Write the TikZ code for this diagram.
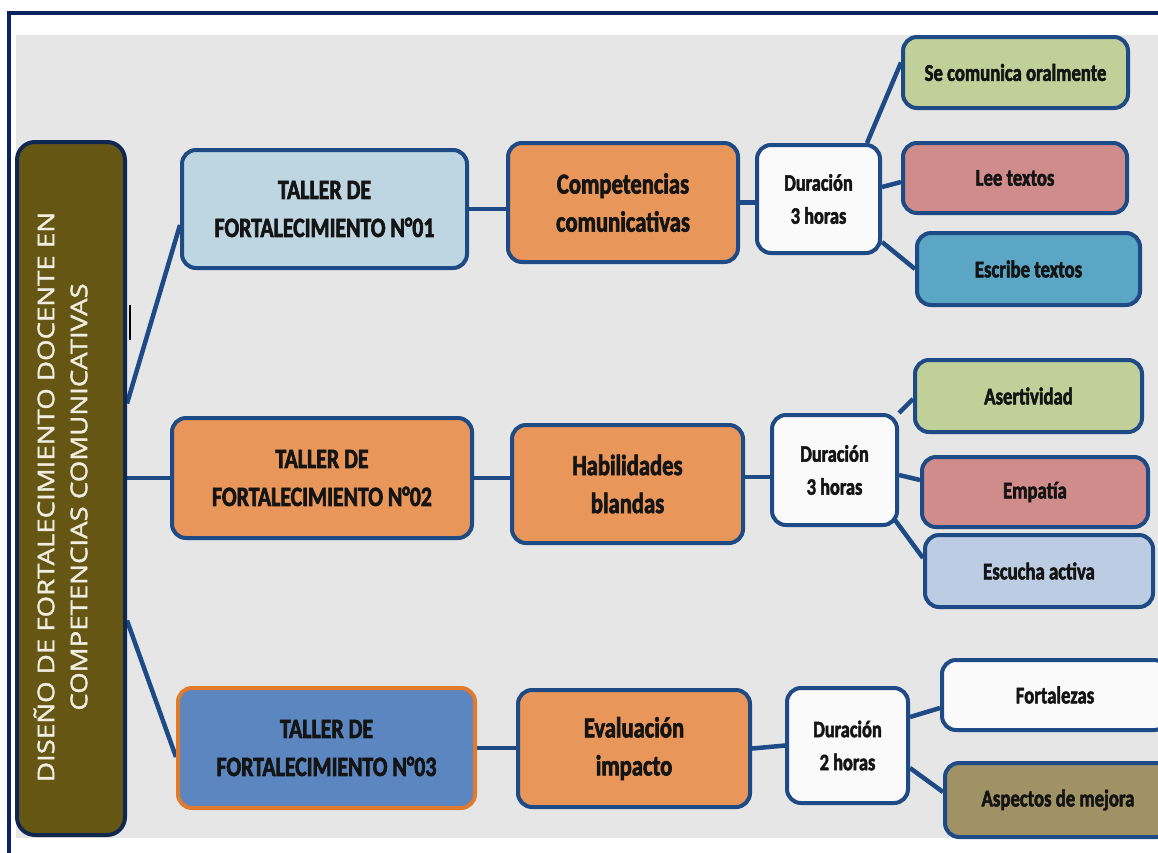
\documentclass[tikz,border=0pt]{standalone}
\usepackage{fontspec}
\setmainfont{Carlito}
\newfontfamily\boxfont[FakeStretch=0.78, BoldFeatures={FakeBold=2.2}]{Carlito}
\newfontfamily\rootfont[FakeStretch=1.2, FakeBold=1.6]{Open Sans}
\definecolor{navy}{RGB}{10,36,96}
\definecolor{edge}{RGB}{30,74,134}
\definecolor{rootfill}{RGB}{102,86,20}
\definecolor{rootedge}{RGB}{16,40,80}
\definecolor{paper}{RGB}{230,230,230}
\definecolor{tonefill}{RGB}{190,214,226}
\definecolor{orangefill}{RGB}{232,150,90}
\definecolor{tthreefill}{RGB}{92,134,192}
\definecolor{tthreeedge}{RGB}{224,122,44}
\definecolor{greenfill}{RGB}{192,208,152}
\definecolor{pinkfill}{RGB}{208,140,138}
\definecolor{tealfill}{RGB}{90,166,196}
\definecolor{paleblue}{RGB}{188,204,226}
\definecolor{olivefill}{RGB}{160,146,100}
\definecolor{whitefill}{RGB}{250,250,250}
\definecolor{roottext}{RGB}{240,238,226}
\pgfdeclarelayer{bglayer}
\pgfdeclarelayer{linelayer}
\pgfsetlayers{bglayer,linelayer,main}
\tikzset{
  box/.style={draw=edge, line width=4pt, rounded corners=14pt, align=center, inner sep=0pt, text=black!92},
  taller/.style={box, font=\boxfont\bfseries\fontsize{28}{38}\selectfont},
  comp/.style={box, fill=orangefill, font=\boxfont\bfseries\fontsize{29}{38}\selectfont},
  dur/.style={box, fill=whitefill, font=\boxfont\bfseries\fontsize{23.5}{33}\selectfont},
  leaf/.style={box, font=\boxfont\bfseries\fontsize{24}{28}\selectfont},
  conn/.style={draw=edge, line width=4.5pt}
}
\begin{document}
\begin{tikzpicture}[x=1pt,y=-1pt]
\useasboundingbox (0,0) rectangle (1158,852);
\begin{pgfonlayer}{bglayer}
\fill[white] (0,0) rectangle (1158,852);
\fill[paper] (16,35) rectangle (1158,838);
\end{pgfonlayer}
\clip (0,0) rectangle (1158,852);
\draw[navy, line width=4pt] (1170,13) -- (9,13) -- (9,870);

% root
\node[draw=rootedge, fill=rootfill, line width=4pt, rounded corners=18pt,
      minimum width=108pt, minimum height=693pt, inner sep=0pt] (root) at (71,488.5) {};
\node[rotate=90, font=\rootfont\fontsize{23}{33}\selectfont, text=roottext, align=center]
      (roottext) at (60.5,497) {DISEÑO DE FORTALECIMIENTO DOCENTE EN\\COMPETENCIAS COMUNICATIVAS};
\draw[black, line width=1.2pt] (130,305) -- (130,340);

% workshops
\node[taller, fill=tonefill, minimum width=285pt, minimum height=118pt] (T1) at (324.5,209) {TALLER DE\\FORTALECIMIENTO N°01};
\node[taller, fill=orangefill, minimum width=300pt, minimum height=120pt] (T2) at (322,478) {TALLER DE\\FORTALECIMIENTO N°02};
\node[taller, fill=tthreefill, draw=tthreeedge, minimum width=297pt, minimum height=120pt] (T3) at (326.5,748) {TALLER DE\\FORTALECIMIENTO N°03};

% topics
\node[comp, minimum width=230pt, minimum height=119pt] (C1) at (623,202.5) {Competencias\\comunicativas};
\node[comp, minimum width=231pt, minimum height=118pt] (C2) at (627.5,484) {Habilidades\\blandas};
\node[comp, minimum width=232pt, minimum height=117pt] (C3) at (634,748.5) {Evaluación\\impacto};

% durations
\node[dur, minimum width=123pt, minimum height=108pt] (D1) at (818.5,199) {Duración\\3 horas};
\node[dur, minimum width=125pt, minimum height=110pt] (D2) at (834.5,470) {Duración\\3 horas};
\node[dur, minimum width=121pt, minimum height=115pt] (D3) at (847.5,745.5) {Duración\\2 horas};

% leaves
\node[leaf, fill=greenfill, minimum width=225pt, minimum height=71pt] (L11) at (1015.5,72.5) {Se comunica oralmente};
\node[leaf, fill=pinkfill, minimum width=224pt, minimum height=70pt] (L12) at (1015,178) {Lee textos};
\node[leaf, fill=tealfill, minimum width=223pt, minimum height=72pt] (L13) at (1028.5,269) {Escribe textos};
\node[leaf, fill=greenfill, minimum width=227pt, minimum height=72pt] (L21) at (1028.5,396) {Asertividad};
\node[leaf, fill=pinkfill, minimum width=226pt, minimum height=70pt] (L22) at (1035,492) {Empatía};
\node[leaf, fill=paleblue, minimum width=228pt, minimum height=72pt] (L23) at (1039,571) {Escucha activa};
\node[leaf, fill=whitefill, minimum width=226pt, minimum height=70pt] (L31) at (1055,695) {Fortalezas};
\node[leaf, fill=olivefill, minimum width=226pt, minimum height=74pt] (L32) at (1058,800) {Aspectos de mejora};

\begin{pgfonlayer}{linelayer}
\draw[conn] ([yshift=85pt]root.east) -- ([yshift=-16pt]T1.west);
\draw[conn] (T2.west -| root.east) -- (T2.west);
\draw[conn] ([yshift=-132pt]root.east) -- ([yshift=-9pt]T3.west);
\draw[conn] (T1.east) -- (T1.east -| C1.west);
\draw[conn] (T2.east) -- (T2.east -| C2.west);
\draw[conn] (T3.east) -- (T3.east -| C3.west);
\draw[conn] (C1.east) -- (C1.east -| D1.west);
\draw[conn] ([yshift=7pt]C2.east) -- ([yshift=-7pt]D2.west);
\draw[conn] (C3.east) -- (D3.west);
\draw[conn] ([xshift=-15pt]D1.north east) -- ([yshift=10pt]L11.west);
\draw[conn] ([yshift=12pt]D1.east) -- ([yshift=-4pt]L12.west);
\draw[conn] ([yshift=13pt]D1.south east) -- (L13.west);
\draw[conn] (D2.north east) -- ([yshift=-3pt]L21.west);
\draw[conn] ([yshift=-5pt]D2.east) -- ([yshift=12pt]L22.west);
\draw[conn] ([shift={(-4pt,7pt)}]D2.south east) -- ([yshift=13pt]L23.west);
\draw[conn] ([yshift=28.5pt]D3.east) -- ([yshift=-13pt]L31.west);
\draw[conn] ([yshift=-22.5pt]D3.east) -- ([yshift=8pt]L32.west);
\end{pgfonlayer}
\end{tikzpicture}
\end{document}
